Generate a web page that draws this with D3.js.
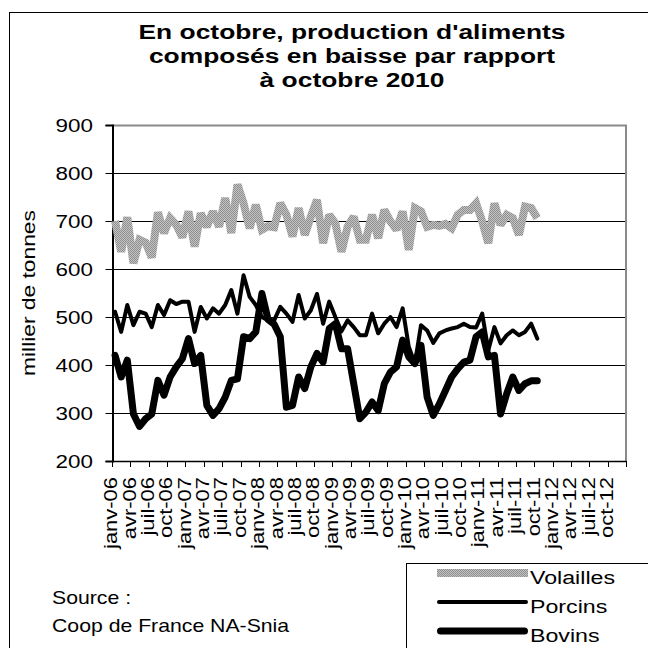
<!DOCTYPE html>
<html>
<head>
<meta charset="utf-8">
<script src="https://cdnjs.cloudflare.com/ajax/libs/d3/7.8.5/d3.min.js"></script>
<style>
  html, body { margin: 0; padding: 0; background: #fff; }
  svg { display: block; font-family: "Liberation Sans", Arial, sans-serif; }
</style>
</head>
<body>
<div id="chart"></div>
<script>
// axis categories: one band per month, janv-06 .. déc-12
const years = ['06', '07', '08', '09', '10', '11', '12'];
const monthNames = ['janv', 'févr', 'mars', 'avr', 'mai', 'juin', 'juil', 'août', 'sept', 'oct', 'nov', 'déc'];
const tickLabels = [
  'janv-06', 'avr-06', 'juil-06', 'oct-06', 'janv-07', 'avr-07', 'juil-07', 'oct-07',
  'janv-08', 'avr-08', 'juil-08', 'oct-08', 'janv-09', 'avr-09', 'juil-09', 'oct-09',
  'janv-10', 'avr-10', 'juil-10', 'oct-10', 'janv-11', 'avr-11', 'juil-11', 'oct-11',
  'janv-12', 'avr-12', 'juil-12', 'oct-12'
];
const yTicks = [200, 300, 400, 500, 600, 700, 800, 900];

// milliers de tonnes, janv-06 .. oct-11
const volailles = [
  700, 636, 708, 612, 661, 655, 624, 718, 675, 706,
  692, 666, 720, 647, 716, 688, 720, 688, 748, 675,
  776, 737, 685, 734, 682, 689, 687, 737, 713, 668,
  727, 671, 709, 744, 654, 713, 695, 636, 688, 709,
  661, 661, 713, 664, 723, 699, 682, 720, 640, 727,
  720, 688, 692, 690, 694, 685, 713, 723, 723, 737,
  699, 654, 737, 692, 713, 706, 671, 730, 727, 706
];
const porcins = [
  511, 469, 525, 483, 511, 507, 479, 525, 504, 535,
  527, 532, 532, 469, 521, 497, 518, 507, 525, 556,
  507, 587, 542, 525, 500, 493, 493, 521, 507, 490,
  546, 497, 514, 548, 486, 532, 500, 470, 493, 479,
  462, 462, 507, 466, 486, 500, 479, 518, 438, 403,
  483, 472, 446, 466, 472, 476, 479, 486, 479, 478,
  507, 431, 479, 445, 462, 472, 462, 469, 486, 455
];
const bovins = [
  420, 375, 410, 298, 272, 288, 298, 368, 337, 375,
  396, 413, 455, 403, 420, 316, 295, 309, 333, 368,
  371, 459, 455, 469, 549, 495, 485, 459, 312, 316,
  375, 351, 396, 424, 406, 476, 486, 434, 434, 361,
  288, 302, 323, 305, 361, 385, 396, 452, 417, 403,
  441, 333, 295, 319, 347, 375, 392, 406, 410, 459,
  469, 417, 420, 298, 340, 375, 347, 361, 367, 367
];

const months = [];
years.forEach(y => monthNames.forEach(m => months.push(m + '-' + y)));

const W = 648, H = 648;
const plot = { left: 112, right: 626, top: 125, bottom: 461 };
// the source glyphs are wider than Arial: stretch text along its direction
const wide = 1.2;

const svg = d3.select('#chart').append('svg')
  .attr('width', W)
  .attr('height', H);

// dithered grey used for the Volailles line
const pat = svg.append('defs').append('pattern')
  .attr('id', 'grain')
  .attr('patternUnits', 'userSpaceOnUse')
  .attr('width', 2)
  .attr('height', 2);
pat.append('rect').attr('width', 2).attr('height', 2).attr('fill', '#c4c4c4');
pat.append('rect').attr('width', 1).attr('height', 1).attr('fill', '#8e8e8e');
pat.append('rect').attr('x', 1).attr('y', 1).attr('width', 1).attr('height', 1).attr('fill', '#8e8e8e');

// outer frame of the chart (right/bottom sides fall outside the picture)
svg.append('rect')
  .attr('x', 9.5).attr('y', 12.5)
  .attr('width', 700).attr('height', 700)
  .attr('fill', 'none')
  .attr('stroke', '#000');

const x = d3.scaleBand()
  .domain(months)
  .range([plot.left, plot.right]);

const y = d3.scaleLinear()
  .domain([200, 900])
  .range([plot.bottom, plot.top]);

function label(g, tx, ty, rot, sx, txt) {
  return g.append('text')
    .attr('transform', `translate(${tx},${ty})` + (rot ? ` rotate(${rot})` : '') + ` scale(${sx},1)`)
    .text(txt);
}

// title
['En octobre, production d\'aliments', 'composés en baisse par rapport', 'à octobre 2010']
  .forEach((t, i) => {
    label(svg, 352, 39 + i * 24, 0, 1.32, t)
      .attr('text-anchor', 'middle')
      .style('font-size', '20px')
      .style('font-weight', 'bold');
  });

// horizontal gridlines
svg.append('g')
  .selectAll('line')
  .data(yTicks.filter(v => v > 200 && v < 900))
  .enter().append('line')
  .attr('x1', plot.left).attr('x2', plot.right)
  .attr('y1', d => y(d) + 0.5).attr('y2', d => y(d) + 0.5)
  .attr('stroke', '#000')
  .attr('stroke-width', 1);

// plot border top / right (grey)
svg.append('path')
  .attr('d', `M${plot.left},${plot.top + 0.5}H${plot.right}V${plot.bottom}`)
  .attr('fill', 'none')
  .attr('stroke', '#8a8a8a')
  .attr('stroke-width', 2);

// y axis
const yAxis = svg.append('g')
  .attr('transform', `translate(${plot.left + 0.5},0)`)
  .call(d3.axisLeft(y).tickValues(yTicks).tickSize(7).tickFormat(''));
yAxis.select('.domain').attr('stroke', '#000').attr('stroke-width', 2);
yAxis.selectAll('.tick line').attr('stroke', '#000');

const yLab = svg.append('g')
  .attr('text-anchor', 'end')
  .style('font-size', '19px');
yTicks.forEach(v => {
  label(yLab, 93, y(v), 0, 1.18, d3.format('d')(v)).attr('dy', '0.35em');
});

label(svg, 35, (plot.top + plot.bottom) / 2, -90, wide, 'millier de tonnes')
  .attr('text-anchor', 'middle')
  .style('font-size', '19px');

// x axis: tick every 3 months, label under each tick
const tickPos = d3.range(0, months.length + 1, 3).map(i =>
  i < months.length ? x(months[i]) : plot.right);

svg.append('line')
  .attr('x1', plot.left).attr('x2', plot.right)
  .attr('y1', plot.bottom + 0.5).attr('y2', plot.bottom + 0.5)
  .attr('stroke', '#000').attr('stroke-width', 1.5);

svg.append('g')
  .selectAll('line')
  .data(tickPos)
  .enter().append('line')
  .attr('x1', d => Math.round(d) + 0.5).attr('x2', d => Math.round(d) + 0.5)
  .attr('y1', plot.bottom).attr('y2', plot.bottom + 6)
  .attr('stroke', '#000');

const xLab = svg.append('g')
  .attr('text-anchor', 'end')
  .style('font-size', '18px');
tickLabels.forEach((t, i) => {
  label(xLab, tickPos[i] - 1, plot.bottom + 16, -90, 1.22, t).attr('dy', '0.35em');
});

// series
const line = d3.line()
  .x((d, i) => x(months[i]) + x.bandwidth() / 2)
  .y(d => y(d));

const series = [
  { name: 'Volailles', values: volailles, stroke: 'url(#grain)', width: 8, join: 'miter', cap: 'butt' },
  { name: 'Porcins', values: porcins, stroke: '#000', width: 4, join: 'round', cap: 'round' },
  { name: 'Bovins', values: bovins, stroke: '#000', width: 7, join: 'round', cap: 'round' }
];

svg.append('g')
  .selectAll('path')
  .data(series)
  .enter().append('path')
  .attr('d', d => line(d.values))
  .attr('fill', 'none')
  .attr('stroke', d => d.stroke)
  .attr('stroke-width', d => d.width)
  .attr('stroke-linejoin', d => d.join)
  .attr('stroke-miterlimit', 2)
  .attr('stroke-linecap', d => d.cap);

// source
const src = svg.append('g').style('font-size', '18px');
label(src, 52, 604, 0, 1.18, 'Source :');
label(src, 52, 632, 0, 1.18, 'Coop de France NA-Snia');

// legend (box runs off the picture)
const legend = svg.append('g');
legend.append('rect')
  .attr('x', 406.5).attr('y', 563.5)
  .attr('width', 300).attr('height', 200)
  .attr('fill', '#fff')
  .attr('stroke', '#000');

series.forEach((s, i) => {
  const ly = 573 + i * 29;
  legend.append('line')
    .attr('x1', s.cap === 'round' ? 437 + s.width / 2 : 437)
    .attr('x2', s.cap === 'round' ? 528 - s.width / 2 : 528)
    .attr('y1', ly).attr('y2', ly)
    .attr('stroke', s.stroke)
    .attr('stroke-width', s.width)
    .attr('stroke-linecap', s.cap);
  label(legend, 530, ly + 11, 0, 1.22, s.name).style('font-size', '19px');
});
</script>
</body>
</html>
